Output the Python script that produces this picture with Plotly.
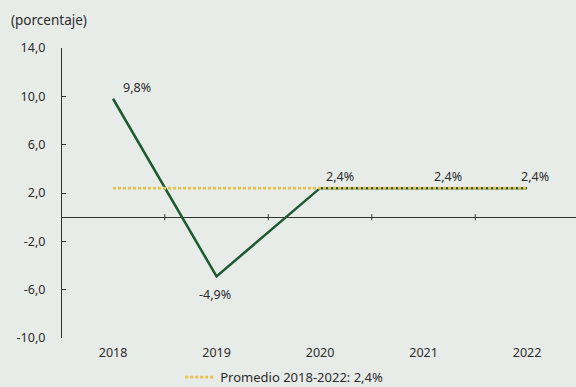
import plotly.graph_objects as go

# Data
years = ["2018", "2019", "2020", "2021", "2022"]
growth = [9.8, -4.9, 2.4, 2.4, 2.4]
average = 2.4
y_ticks = [14, 10, 6, 2, -2, -6, -10]

def fmt(v, dec=1):
    return f"{v:.{dec}f}".replace(".", ",")

xs = list(range(len(years)))
BG = "#e8ece9"
FONT = "Noto Sans"
TXT = "#2b2b2b"

fig = go.Figure()

fig.add_trace(go.Scatter(
    x=xs, y=growth, mode="lines",
    line=dict(color="#1d5a30", width=2.5),
    showlegend=False, hoverinfo="skip",
))
fig.add_trace(go.Scatter(
    x=xs, y=[average] * len(xs), mode="lines",
    line=dict(color="#e9c04a", width=2.8, dash="3px,2px"),
    name=f"Promedio {years[0]}-{years[-1]}: {fmt(average)}%",
    showlegend=True,
))

# value labels
label_shift = [(24, 11), (-2, -18), (20, 12), (24, 12), (8, 12)]
for i, v in enumerate(growth):
    dx, dy = label_shift[i]
    fig.add_annotation(x=xs[i], y=v, text=f"{fmt(v)}%", showarrow=False,
                       xshift=dx, yshift=dy,
                       font=dict(family=FONT, size=12.5, color=TXT))

# small ticks across the zero line between categories
for k in range(len(xs) - 1):
    fig.add_shape(type="line", xref="x", yref="y",
                  x0=k + 0.5, x1=k + 0.5, y0=-0.25, y1=0.25,
                  line=dict(color="#333333", width=1))

fig.add_annotation(xref="paper", yref="paper", x=-0.103, y=1.095,
                   xanchor="left", yanchor="middle", showarrow=False,
                   text="(porcentaje)",
                   font=dict(family=FONT, size=13.5, color=TXT))

fig.update_layout(
    width=576, height=387,
    margin=dict(l=62, r=0, t=48, b=49),
    paper_bgcolor=BG, plot_bgcolor=BG,
    font=dict(family=FONT, size=12.5, color=TXT),
    xaxis=dict(
        range=[-0.493, 4.473], tickvals=xs, ticktext=years,
        showgrid=False, zeroline=False, showline=False, ticks="",
        ticklabelstandoff=5,
    ),
    yaxis=dict(
        range=[-10, 14], tickvals=y_ticks, ticktext=[fmt(t) for t in y_ticks],
        showgrid=False, zeroline=True, zerolinecolor="#333333", zerolinewidth=1,
        showline=True, linecolor="#333333", linewidth=1.2,
        ticks="inside", ticklen=4, tickcolor="#333333",
        ticklabelstandoff=13,
    ),
    legend=dict(orientation="h", x=0.23, xref="paper",
                y=0.064, yref="container", xanchor="left", yanchor="top",
                bgcolor="rgba(0,0,0,0)", itemwidth=30,
                font=dict(family=FONT, size=13, color=TXT)),
    showlegend=True,
)

fig.write_html("out.html")
